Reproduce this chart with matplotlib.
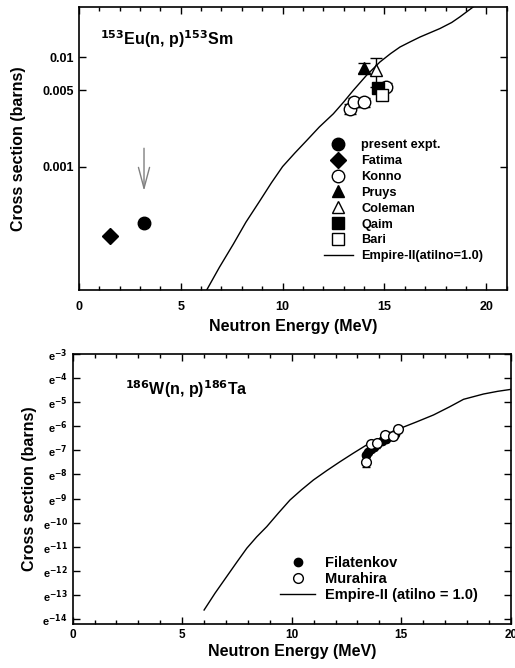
import numpy as np
import matplotlib
matplotlib.use("Agg")
import matplotlib.pyplot as plt
from matplotlib.container import ErrorbarContainer
from matplotlib.ticker import FixedLocator, MultipleLocator, NullLocator, NullFormatter

plt.rcParams['font.family'] = ['Liberation Sans', 'DejaVu Sans']
plt.rcParams['font.weight'] = 'bold'
plt.rcParams['mathtext.default'] = 'bf'

# ---- 153Eu(n,p)153Sm ----
present_E = [3.2]
present_xs = [3.06e-4]
fatima_E = [1.53]
fatima_xs = [2.33e-4]
konno_E = [13.3, 13.52, 14.0, 15.05]
konno_xs = [3.38e-3, 3.89e-3, 3.89e-3, 5.4e-3]
konno_err = [3.5e-4, 3.5e-4, 3.5e-4, 4.0e-4]
pruys_E = [14.0]
pruys_xs = [8.0e-3]
pruys_err = [8.0e-4]
coleman_E = [14.56]
coleman_xs = [7.6e-3]
coleman_err = [2.3e-3]
qaim_E = [14.7]
qaim_xs = [5.25e-3]
qaim_err = [5.0e-4]
bari_E = [14.86]
bari_xs = [4.48e-3]
bari_err = [4.0e-4]
eu_curve_E = [6.27, 6.9, 7.58, 8.2, 8.89, 9.45, 10.0, 10.6, 11.18, 11.8, 12.49, 13.0, 13.47,
              14.12, 14.78, 15.3, 15.76, 16.25, 16.74, 17.72, 18.3, 18.70, 19.36, 19.6]
eu_curve_xs = [7.4e-5, 1.2e-4, 1.95e-4, 3.1e-4, 4.88e-4, 7.1e-4, 1.0e-3, 1.33e-3, 1.73e-3,
               2.3e-3, 3.04e-3, 3.9e-3, 4.98e-3, 6.84e-3, 9.06e-3, 1.08e-2, 1.24e-2, 1.38e-2,
               1.53e-2, 1.83e-2, 2.08e-2, 2.34e-2, 2.89e-2, 3.1e-2]

# ---- 186W(n,p)186Ta ----
filat_E = [13.4, 13.5, 13.6, 13.75, 13.9, 14.1, 14.3, 14.5, 14.7]
filat_xs = [7.47e-4, 8.67e-4, 9.58e-4, 1.06e-3, 1.17e-3, 1.36e-3, 1.50e-3, 1.66e-3, 1.84e-3]
filat_err = [1.0e-4, 1.1e-4, 1.2e-4, 1.3e-4, 1.4e-4, 1.6e-4, 1.8e-4, 2.0e-4, 2.2e-4]
mura_E = [13.38, 13.61, 13.88, 14.26, 14.6, 14.84]
mura_xs = [5.7e-4, 1.18e-3, 1.25e-3, 1.73e-3, 1.66e-3, 2.22e-3]
mura_err = [1.2e-4, 1.5e-4, 1.5e-4, 2.2e-4, 2.2e-4, 2.6e-4]
w_curve_E = [6.0, 6.5, 7.03, 7.5, 7.95, 8.4, 8.86, 9.4, 9.92, 10.45, 10.99, 11.6, 12.2, 12.8,
             13.42, 14.2, 14.95, 15.7, 16.47, 17.2, 17.84, 18.75, 19.4, 20.0]
w_curve_xs = [1.19e-6, 2.4e-6, 4.78e-6, 8.8e-6, 1.56e-5, 2.5e-5, 3.83e-5, 6.8e-5, 1.16e-4,
              1.78e-4, 2.67e-4, 3.95e-4, 5.7e-4, 8.1e-4, 1.15e-3, 1.63e-3, 2.29e-3, 3.0e-3,
              4.0e-3, 5.6e-3, 7.67e-3, 9.56e-3, 1.07e-2, 1.16e-2]
w_exps = list(range(-3, -15, -1))

fig = plt.figure(figsize=(5.15, 6.68), dpi=100)
ax1 = fig.add_axes([0.153, 0.566, 0.831, 0.4235])
ax2 = fig.add_axes([0.141, 0.066, 0.851, 0.4035])

for ax in (ax1, ax2):
    ax.tick_params(which='both', direction='in', top=True, right=True, width=1)
    ax.tick_params(which='major', length=5)
    ax.tick_params(which='minor', length=3)
    for s in ax.spines.values():
        s.set_linewidth(1.2)


def marker_handles(ax, order):
    h, l = ax.get_legend_handles_labels()
    h = [x[0] if isinstance(x, ErrorbarContainer) else x for x in h]
    return [h[i] for i in order], [l[i] for i in order]


# top panel
ax1.set_yscale('log')
ax1.plot(eu_curve_E, eu_curve_xs, color='black', lw=1, label='Empire-II(atilno=1.0)')
ax1.plot(present_E, present_xs, 'o', color='black', ms=9, label='present expt.')
ax1.plot(fatima_E, fatima_xs, 'D', color='black', ms=8, label='Fatima')
ax1.errorbar(konno_E, konno_xs, yerr=konno_err, fmt='o', mfc='white', mec='black', color='black',
             ms=9, capsize=4, elinewidth=1, label='Konno')
ax1.errorbar(pruys_E, pruys_xs, yerr=pruys_err, fmt='^', color='black', ms=9, capsize=4,
             elinewidth=1, label='Pruys')
ax1.errorbar(coleman_E, coleman_xs, yerr=coleman_err, fmt='^', mfc='white', mec='black',
             color='black', ms=9, capsize=4, elinewidth=1, label='Coleman')
ax1.errorbar(qaim_E, qaim_xs, yerr=qaim_err, fmt='s', color='black', ms=8, capsize=4,
             elinewidth=1, label='Qaim')
ax1.errorbar(bari_E, bari_xs, yerr=bari_err, fmt='s', mfc='white', mec='black', color='black',
             ms=8, capsize=4, elinewidth=1, label='Bari')
ax1.annotate('', xy=(present_E[0], 5.65e-4), xytext=(present_E[0], 1.56e-3),
             arrowprops=dict(arrowstyle='->,head_length=1.5,head_width=0.4', color='gray', lw=1))
ax1.set_xlim(0, 21)
ax1.set_ylim(7.45e-5, 2.88e-2)
ax1.xaxis.set_major_locator(MultipleLocator(5))
ax1.xaxis.set_minor_locator(MultipleLocator(1))
ax1.yaxis.set_major_locator(FixedLocator([0.001, 0.005, 0.01]))
ax1.yaxis.set_major_formatter(plt.FixedFormatter(['0.001', '0.005', '0.01']))
ax1.yaxis.set_minor_locator(NullLocator())
ax1.yaxis.set_minor_formatter(NullFormatter())
ax1.tick_params(labelsize=9)
ax1.tick_params(axis='x', pad=8)
ax1.set_xlabel('Neutron Energy (MeV)', fontsize=11.5, fontweight='bold', labelpad=4)
ax1.set_ylabel('Cross section (barns)', fontsize=11.5, fontweight='bold', labelpad=12)
ax1.text(0.05, 0.885, r'$^{153}$Eu(n, p)$^{153}$Sm', transform=ax1.transAxes, fontsize=11.5,
         fontweight='bold', va='center')
hh, ll = marker_handles(ax1, [1, 2, 3, 4, 5, 6, 7, 0])
ax1.legend(hh, ll, loc='upper left', bbox_to_anchor=(0.56, 0.55), frameon=False, fontsize=9.2,
           handlelength=2.3, handletextpad=0.65, labelspacing=0.3, borderaxespad=0)

# bottom panel
ax2.set_yscale('log', base=np.e)
ax2.plot(w_curve_E, w_curve_xs, color='black', lw=1, label='Empire-II (atilno = 1.0)')
ax2.errorbar(filat_E, filat_xs, yerr=filat_err, xerr=0.1, fmt='o', color='black', ms=6,
             capsize=2, elinewidth=1, label='Filatenkov')
ax2.errorbar(mura_E, mura_xs, yerr=mura_err, fmt='o', mfc='white', mec='black', color='black',
             ms=7, capsize=3, elinewidth=1, label='Murahira')
ax2.set_xlim(0, 20)
ax2.set_ylim(np.exp(-14.22), np.exp(-3))
ax2.xaxis.set_major_locator(MultipleLocator(5))
ax2.xaxis.set_minor_locator(MultipleLocator(1))
ax2.yaxis.set_major_locator(FixedLocator([np.exp(k) for k in w_exps]))
ax2.yaxis.set_major_formatter(plt.FixedFormatter(['e$^{%d}$' % k for k in w_exps]))
ax2.yaxis.set_minor_locator(NullLocator())
ax2.yaxis.set_minor_formatter(NullFormatter())
ax2.tick_params(axis='x', labelsize=8.5)
ax2.tick_params(axis='y', labelsize=8)
ax2.set_xlabel('Neutron Energy (MeV)', fontsize=11.5, fontweight='bold', labelpad=2)
ax2.set_ylabel('Cross section (barns)', fontsize=11.5, fontweight='bold')
ax2.text(0.12, 0.87, r'$^{186}$W(n, p)$^{186}$Ta', transform=ax2.transAxes, fontsize=11.5,
         fontweight='bold', va='center')
hh, ll = marker_handles(ax2, [1, 2, 0])
ax2.legend(hh, ll, loc='upper left', bbox_to_anchor=(0.46, 0.275), frameon=False, fontsize=10.5,
           handlelength=2.4, handletextpad=0.7, labelspacing=0.15, borderaxespad=0)

fig.savefig('out.png', dpi=100)
